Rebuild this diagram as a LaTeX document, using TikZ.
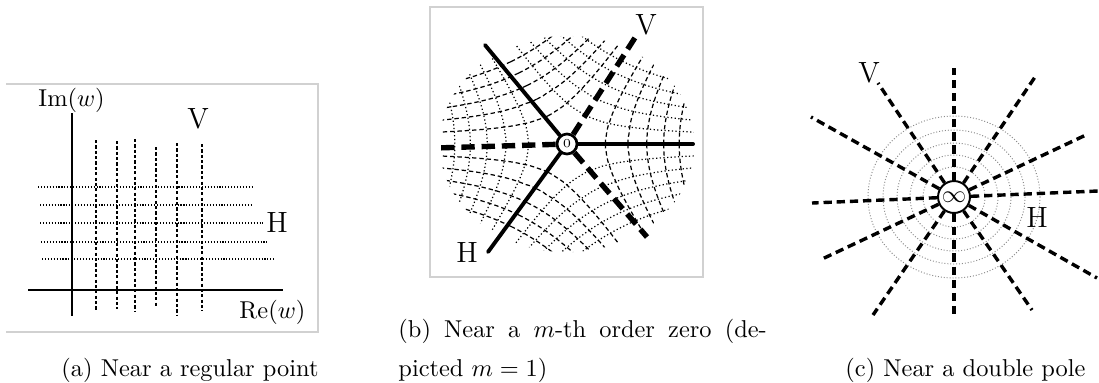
\documentclass[tikz,border=0pt]{standalone}
\usepackage{amsmath}
\usetikzlibrary{positioning}

\begin{document}
\begin{tikzpicture}[
    x=0.41pt, y=-0.41pt,
    font=\fontsize{10}{12}\selectfont,
    frame/.style={draw=black!18, line width=0.5pt},
    axis/.style={line width=0.75pt},
    vline/.style={line width=0.5pt, dash pattern=on 1.3pt off 0.9pt},
    hline/.style={line width=0.45pt, dash pattern=on 0.45pt off 0.75pt},
    hdot/.style={line width=0.5pt, dash pattern=on 0.5pt off 1pt},
    vdash/.style={line width=0.5pt, dash pattern=on 1.8pt off 1.2pt},
    critsolid/.style={line width=1.6pt, line cap=round},
    critdash/.style={line width=2.2pt, dash pattern=on 5.5pt off 2.8pt},
    zero/.style={circle, draw, fill=white, line width=1.1pt, inner sep=0pt, minimum size=8.2pt, font=\tiny},
    pole/.style={circle, draw, fill=white, line width=0.8pt, inner sep=0pt, minimum size=13.1pt},
    ring/.style={draw=black!45, line width=0.4pt, dash pattern=on 0.4pt off 0.8pt},
    poledash/.style={line width=1.4pt, dash pattern=on 3.4pt off 2pt},
    vh/.style={font=\fontsize{12}{14}\selectfont, inner sep=0pt},
    lbl/.style={anchor=base west, inner sep=0pt},
    caption/.style={anchor=base west, inner sep=0pt}
  ]
    \useasboundingbox (0,0) rectangle (1099,382);

    % (a) regular point
    \draw[frame] (6,84) -- (318,84) -- (318,332) -- (6,332);
    \foreach \x/\a/\b in {96/140/311, 117/141/309, 135/139/311, 156/147/307, 177/143/315, 202/144/311}
      \draw[vline] (\x,\a) -- (\x,\b);
    \foreach \y/\a/\b in {187/38/253, 205/40/252, 223/40/263, 242/41/269, 259/42/274}
      \draw[hline] (\a,\y) -- (\b,\y);
    \draw[axis] (72,113) -- (72,316);
    \draw[axis] (28,290) -- (283,290);
    \node[lbl] (imlbl) at (38,106) {Im$(w)$};
    \node[lbl] (relbl) at (239,318) {Re$(w)$};
    \node[vh] (va) at (198,119) {V};
    \node[vh] (ha) at (277,222) {H};

    % (b) simple zero
    \draw[frame] (430,7) rectangle (703,277);
    \begin{scope}[shift={(567,144)}, xscale=125, yscale=-106]
      \clip (0,0) circle (1.02);
      \foreach \r in {0,120,240}{
        \begin{scope}[rotate=\r]
          \foreach \c in {0.17,0.34,0.51,0.68,0.85}
            \draw[hdot] plot[domain=-1.2:1.2, samples=41, variable=\t]
              ({((\t)*(\t)+\c*\c)^(1/3)*cos(2/3*atan2(\c,\t))},
               {((\t)*(\t)+\c*\c)^(1/3)*sin(2/3*atan2(\c,\t))});
          \foreach \c in {-0.85,-0.68,-0.51,-0.34,-0.17,0.17,0.34,0.51,0.68,0.85}
            \draw[vdash] plot[domain=0:1.3, samples=41, variable=\t]
              ({((\t)*(\t)+(\c)*(\c))^(1/3)*cos(2/3*atan2(\t,\c))},
               {((\t)*(\t)+(\c)*(\c))^(1/3)*sin(2/3*atan2(\t,\c))});
        \end{scope}
      }
    \end{scope}
    \node[zero] (zero) at (567,144) {0};
    \foreach \n/\ex/\ey in {hr/693/144, hul/485/45, hll/488/252}{
      \coordinate (\n) at (\ex,\ey);
      \draw[critsolid] (zero) -- (\n);
    }
    \foreach \n/\ex/\ey in {vl/435/148, vur/638/33, vlr/647/237}{
      \coordinate (\n) at (\ex,\ey);
      \draw[critdash] (zero) -- (\n);
    }
    \node[vh] (vb) at (646,25) {V};
    \node[vh] (hb) at (467,252) {H};

    % (c) double pole
    \foreach \rx/\ry in {86/81, 71/67, 57/54, 44/42, 31/30}
      \draw[ring] (954,197) ellipse [x radius=\rx, y radius=\ry];
    \node[pole] (pole) at (954,197) {$\infty$};
    \foreach \n/\ex/\ey in {1/954/68, 2/878/83, 3/811/117, 4/812/203, 5/820/260, 6/873/315,
                            7/954/315, 8/1032/310, 9/1097/278, 10/1098/191, 11/1088/134, 12/1035/77}{
      \coordinate (p\n) at (\ex,\ey);
      \draw[poledash] (pole) -- (p\n);
    }
    \node[vh] (vc) at (869,73) {V};
    \node[vh] (hc) at (1037,217) {H};

    % captions
    \node[caption] (capa) at (61,376) {(a) Near a regular point};
    \node[caption] (capb1) at (398,337) {\makebox[151pt][s]{(b) Near a $m$-th order zero (de-}};
    \node[caption] (capb2) at (398,376) {picted $m = 1$)};
    \node[caption] (capc) at (845,376) {(c) Near a double pole};
  \end{tikzpicture}
\end{document}
